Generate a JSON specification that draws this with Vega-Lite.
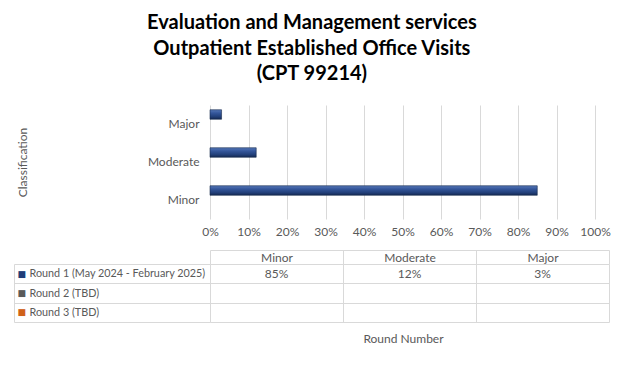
{
  "$schema": "https://vega.github.io/schema/vega-lite/v6.json",
  "padding": {"left": 13, "top": 13, "right": 5, "bottom": 5},
  "config": {
    "font": "Lato",
    "view": {"stroke": null},
    "axis": {"labelFont": "Lato", "titleFont": "Lato", "labelColor": "#595959", "titleColor": "#595959", "labelFontSize": 12, "titleFontSize": 12, "titleFontWeight": "normal"}
  },
  "title": {
    "text": ["Evaluation and Management services", "Outpatient Established Office Visits", "(CPT 99214)"],
    "fontSize": 20,
    "fontWeight": "bold",
    "color": "#000000",
    "lineHeight": 25.5,
    "anchor": "middle",
    "offset": 21
  },
  "data": {
    "values": [
      {"classification": "Minor", "round": "Round 1 (May 2024 - February 2025)", "value": 0.85},
      {"classification": "Moderate", "round": "Round 1 (May 2024 - February 2025)", "value": 0.12},
      {"classification": "Major", "round": "Round 1 (May 2024 - February 2025)", "value": 0.03}
    ]
  },
  "spacing": 12,
  "vconcat": [
    {
      "width": 385,
      "height": 114,
      "mark": {
        "type": "bar",
        "stroke": "#16284a",
        "strokeWidth": 0.6,
        "color": {
          "gradient": "linear",
          "x1": 0, "y1": 0, "x2": 0, "y2": 1,
          "stops": [
            {"offset": 0, "color": "#5577b8"},
            {"offset": 0.35, "color": "#34569a"},
            {"offset": 0.7, "color": "#23417c"},
            {"offset": 1, "color": "#152a52"}
          ]
        }
      },
      "encoding": {
        "x": {
          "field": "value",
          "type": "quantitative",
          "scale": {"domain": [0, 1], "nice": false},
          "axis": {
            "values": [0, 0.1, 0.2, 0.3, 0.4, 0.5, 0.6, 0.7, 0.8, 0.9, 1],
            "format": ".0%",
            "title": null,
            "domain": false,
            "ticks": false,
            "grid": true,
            "gridColor": "#d9d9d9",
            "labelPadding": 7,
            "labelFlush": false
          }
        },
        "y": {
          "field": "classification",
          "type": "nominal",
          "scale": {"domain": ["Major", "Moderate", "Minor"], "paddingInner": 0, "paddingOuter": 0},
          "axis": {
            "title": "Classification",
            "domain": false,
            "ticks": false,
            "labelPadding": 11,
            "titlePadding": 118
          }
        },
        "yOffset": {
          "field": "round",
          "type": "nominal",
          "scale": {"domain": ["Round 1 (May 2024 - February 2025)", "Round 2 (TBD)", "Round 3 (TBD)"], "paddingInner": 0, "paddingOuter": 0.5}
        }
      }
    },
    {
      "width": 399,
      "height": 58,
      "title": {"text": "Round Number", "orient": "bottom", "anchor": "middle", "fontSize": 12, "fontWeight": "normal", "color": "#595959", "font": "Lato", "offset": 11, "dx": -6},
      "layer": [
        {
          "mark": {"type": "text", "fontSize": 12, "color": "#595959"},
          "encoding": {
            "x": {
              "field": "classification",
              "type": "nominal",
              "scale": {"domain": ["Minor", "Moderate", "Major"], "paddingInner": 0, "paddingOuter": 0},
              "axis": {
                "orient": "top",
                "title": null,
                "offset": 14,
                "tickSize": -14,
                "tickBand": "extent",
                "grid": true,
                "gridColor": "#d9d9d9",
                "domainColor": "#d9d9d9",
                "tickColor": "#d9d9d9",
                "labelPadding": 7,
                "labelBaseline": "middle",
                "labelAngle": 0
              }
            },
            "y": {
              "field": "round",
              "type": "nominal",
              "scale": {"domain": ["Round 1 (May 2024 - February 2025)", "Round 2 (TBD)", "Round 3 (TBD)"], "paddingInner": 0, "paddingOuter": 0},
              "axis": {
                "orient": "left",
                "title": null,
                "offset": 196,
                "tickSize": -196,
                "tickBand": "extent",
                "grid": true,
                "gridColor": "#d9d9d9",
                "domainColor": "#d9d9d9",
                "tickColor": "#d9d9d9",
                "labelAlign": "left",
                "labelPadding": 181,
                "labelLimit": 0,
                "labelFontSize": 10.8,
                "labelBaseline": "middle"
              }
            },
            "text": {"field": "value", "type": "quantitative", "format": ".0%"}
          }
        },
        {
          "mark": {"type": "text", "opacity": 0},
          "encoding": {
            "y": {
              "field": "round",
              "type": "nominal",
              "axis": {
                "orient": "left",
                "title": null,
                "offset": 196,
                "domain": false,
                "ticks": false,
                "grid": false,
                "labelExpr": "'■'",
                "labelAlign": "left",
                "labelPadding": -3,
                "labelFontSize": 9,
                "labelFont": "DejaVu Sans",
                "labelBaseline": "middle",
                "labelColor": {
                  "condition": [
                    {"test": "datum.value === 'Round 1 (May 2024 - February 2025)'", "value": "#203d78"},
                    {"test": "datum.value === 'Round 2 (TBD)'", "value": "#5a5a5a"}
                  ],
                  "value": "#d0621a"
                }
              }
            }
          }
        }
      ],
      "resolve": {"axis": {"y": "independent"}}
    }
  ]
}
